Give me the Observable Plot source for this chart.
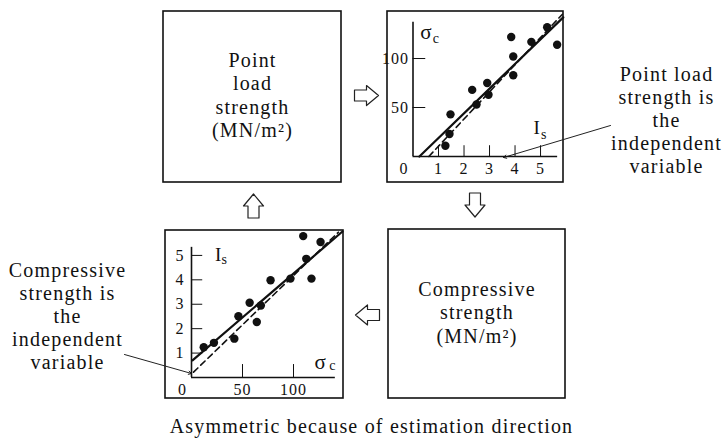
<!DOCTYPE html>
<html><head><meta charset="utf-8">
<script src="https://cdn.jsdelivr.net/npm/d3@7"></script>
<script src="https://cdn.jsdelivr.net/npm/@observablehq/plot@0.6"></script>
<style>
html,body{margin:0;padding:0;background:#fff;}
#wrap{position:relative;width:724px;height:440px;overflow:hidden;background:#fff;}
#wrap > svg{position:absolute;margin:0;}
</style></head><body><div id="wrap"></div>
<script>
// ---------- data: panel "σc on Is" (top right) ----------
const trIs = [1.27, 1.43, 1.47, 2.32, 2.49, 2.91, 2.96, 3.85, 3.93, 3.93, 4.64, 5.26, 5.65];
const trSc = [11, 23, 43, 68, 53, 75, 63, 122, 102, 83, 117, 132, 114];
const trSolidIs = [0.25, 5.89], trSolidSc = [0, 142];
const trDashIs = [0.62, 5.85], trDashSc = [0, 145];
const trXTicks = [1, 2, 3, 4, 5];
const trYTicks = [50, 100];

// ---------- data: panel "Is on σc" (bottom left) ----------
const blSc = [12, 22, 42, 46, 57, 64, 68, 77.5, 97, 109.5, 112.5, 117.6, 126.5];
const blIs = [1.24, 1.42, 1.59, 2.51, 3.06, 2.27, 2.95, 3.98, 4.05, 5.79, 4.86, 4.05, 5.55];
const blSolidSc = [1, 148], blSolidIs = [0.70, 5.98];
const blDashSc = [2, 144], blDashIs = [0.22, 5.95];
const blXTicks = [50, 100];
const blYTicks = [1, 2, 3, 4, 5];

// ---------- texts ----------
const boxTextTL = "Point\nload\nstrength\n(MN/m²)";
const boxTextBR = "Compressive\nstrength\n(MN/m²)";
const noteRight = "Point load\nstrength is\nthe\nindependent\nvariable";
const noteLeft = "Compressive\nstrength is\nthe\nindependent\nvariable";
const caption = "Asymmetric because of estimation direction";

// ---------- layout ----------
const FONT = "Liberation Serif, Times New Roman, serif";
const boxes = [
  {x1: 163, x2: 341, y1: 11, y2: 182},
  {x1: 387, x2: 563, y1: 11, y2: 182},
  {x1: 388, x2: 565, y1: 229, y2: 398},
  {x1: 165, x2: 343, y1: 230, y2: 398}
];
const arrowSpecs = [
  {id: "r", cx: 366, cy: 95, dir: "right"},
  {id: "d", cx: 474.5, cy: 204.5, dir: "down"},
  {id: "l", cx: 367, cy: 314.5, dir: "left"},
  {id: "u", cx: 253, cy: 205.5, dir: "up"}
];
function blockArrow({id, cx, cy, dir}) {
  const L = 24, w = 20, sw = 11, head = 12;
  const pts = [[-L/2, -sw/2], [L/2 - head, -sw/2], [L/2 - head, -w/2], [L/2, 0],
               [L/2 - head, w/2], [L/2 - head, sw/2], [-L/2, sw/2], [-L/2, -sw/2]];
  const rot = {right: ([x, y]) => [x, y], down: ([x, y]) => [-y, x],
               left: ([x, y]) => [-x, -y], up: ([x, y]) => [y, -x]}[dir];
  return pts.map(p => { const [x, y] = rot(p); return {id, x: cx + x, y: cy + y}; });
}
const arrowPts = arrowSpecs.flatMap(blockArrow);
const leaders = [
  {x1: 610, y1: 125, x2: 503, y2: 157},
  {x1: 124, y1: 354, x2: 191, y2: 373}
];
const texts = [
  {x: 252, y: 94, t: boxTextTL},
  {x: 476.5, y: 311.5, t: boxTextBR},
  {x: 666, y: 119, t: noteRight},
  {x: 67, y: 315, t: noteLeft},
  {x: 371, y: 425, t: caption}
];

const wrap = document.getElementById("wrap");
function place(svg, left, top) {
  svg.style.left = left + "px";
  svg.style.top = top + "px";
  wrap.appendChild(svg);
}

// ---------- background layer: boxes, arrows, notes ----------
const bg = Plot.plot({
  width: 724, height: 440, margin: 0,
  x: {domain: [0, 724], axis: null},
  y: {domain: [0, 440], range: [0, 440], axis: null},
  style: {background: "transparent", overflow: "visible", letterSpacing: "1.2px"},
  marks: [
    Plot.rect(boxes, {x1: "x1", x2: "x2", y1: "y1", y2: "y2", fill: "none", stroke: "#111", strokeWidth: 1.6}),
    Plot.line(arrowPts, {x: "x", y: "y", z: "id", fill: "white", stroke: "#222", strokeWidth: 1.2, curve: "linear"}),
    Plot.arrow(leaders, {x1: "x1", y1: "y1", x2: "x2", y2: "y2", stroke: "#222", strokeWidth: 1, headLength: 5}),
    Plot.text(texts, {x: "x", y: "y", text: "t", fontFamily: FONT, fontSize: 20, lineHeight: 1.16,
      textAnchor: "middle", lineAnchor: "middle", fill: "#111"})
  ]
});
place(bg, 0, 0);

// ---------- panel: σc vs Is (top right) ----------
const trData = trIs.map((d, i) => ({x: d, y: trSc[i]}));
const trSolid = trSolidIs.map((d, i) => ({x: d, y: trSolidSc[i]}));
const trDash = trDashIs.map((d, i) => ({x: d, y: trDashSc[i]}));
const tr = Plot.plot({
  width: 176, height: 171,
  marginLeft: 25.5, marginRight: 0, marginTop: 0, marginBottom: 26,
  x: {domain: [0, 5.9], axis: null},
  y: {domain: [0, 148], axis: null},
  style: {background: "transparent", overflow: "visible", letterSpacing: "1px"},
  marks: [
    Plot.ruleY([0], {x1: 0, x2: 5.67, stroke: "#111", strokeWidth: 1.6}),
    Plot.ruleX([0], {y1: 0, y2: 137, stroke: "#111", strokeWidth: 1.6}),
    Plot.ruleX(trXTicks, {y1: 0, y2: 11, stroke: "#111", strokeWidth: 1}),
    Plot.ruleY(trYTicks, {x1: 0, x2: 0.5, stroke: "#111", strokeWidth: 1}),
    Plot.text(trXTicks, {x: d => d, y: 0, text: d => String(d), dy: 12, fontFamily: FONT, fontSize: 16, fill: "#111"}),
    Plot.text([0], {x: d => d, y: 0, text: d => String(d), dy: 12, dx: -9, fontFamily: FONT, fontSize: 16, fill: "#111"}),
    Plot.text(trYTicks, {x: 0, y: d => d, text: d => String(d), dx: -4, textAnchor: "end", fontFamily: FONT, fontSize: 16, fill: "#111"}),
    Plot.line(trSolid, {x: "x", y: "y", stroke: "#111", strokeWidth: 2.2}),
    Plot.line(trDash, {x: "x", y: "y", stroke: "#111", strokeWidth: 1.6, strokeDasharray: "6,4"}),
    Plot.dot(trData, {x: "x", y: "y", r: 4.2, fill: "#111", stroke: "none"}),
    Plot.text(["σ"], {x: 0.53, y: 127, text: d => d, fontFamily: FONT, fontSize: 21, fill: "#111"}),
    Plot.text(["c"], {x: 0.92, y: 120, text: d => d, fontFamily: FONT, fontSize: 14, fill: "#111"}),
    Plot.text(["I"], {x: 4.87, y: 29, text: d => d, fontFamily: FONT, fontSize: 19, fill: "#111"}),
    Plot.text(["s"], {x: 5.14, y: 22, text: d => d, fontFamily: FONT, fontSize: 14, fill: "#111"})
  ]
});
place(tr, 387, 11);

// ---------- panel: Is vs σc (bottom left) ----------
const blData = blSc.map((d, i) => ({x: d, y: blIs[i]}));
const blSolid = blSolidSc.map((d, i) => ({x: d, y: blSolidIs[i]}));
const blDash = blDashSc.map((d, i) => ({x: d, y: blDashIs[i]}));
const bl = Plot.plot({
  width: 178, height: 167,
  marginLeft: 26, marginRight: 0, marginTop: 0, marginBottom: 20,
  x: {domain: [0, 149], axis: null},
  y: {domain: [0, 6.02], axis: null},
  style: {background: "transparent", overflow: "visible", letterSpacing: "1px"},
  marks: [
    Plot.ruleY([0], {x1: 0, x2: 141, stroke: "#111", strokeWidth: 1.6}),
    Plot.ruleX([0], {y1: 0, y2: 5.33, stroke: "#111", strokeWidth: 1.6}),
    Plot.ruleX(blXTicks, {y1: 0, y2: 0.53, stroke: "#111", strokeWidth: 1}),
    Plot.ruleY(blYTicks, {x1: 0, x2: 11, stroke: "#111", strokeWidth: 1}),
    Plot.text(blXTicks, {x: d => d, y: 0, text: d => String(d), dy: 12, fontFamily: FONT, fontSize: 16, fill: "#111"}),
    Plot.text([0], {x: d => d, y: 0, text: d => String(d), dy: 12, dx: -9, fontFamily: FONT, fontSize: 16, fill: "#111"}),
    Plot.text(blYTicks, {x: 0, y: d => d, text: d => String(d), dx: -7, textAnchor: "end", fontFamily: FONT, fontSize: 16, fill: "#111"}),
    Plot.line(blSolid, {x: "x", y: "y", stroke: "#111", strokeWidth: 2.2}),
    Plot.line(blDash, {x: "x", y: "y", stroke: "#111", strokeWidth: 1.6, strokeDasharray: "6,4"}),
    Plot.dot(blData, {x: "x", y: "y", r: 4.2, fill: "#111", stroke: "none"}),
    Plot.text(["I"], {x: 26.5, y: 5.04, text: d => d, fontFamily: FONT, fontSize: 19, fill: "#111"}),
    Plot.text(["s"], {x: 32.5, y: 4.82, text: d => d, fontFamily: FONT, fontSize: 14, fill: "#111"}),
    Plot.text(["σ"], {x: 126.5, y: 0.62, text: d => d, fontFamily: FONT, fontSize: 21, fill: "#111"}),
    Plot.text(["c"], {x: 138.5, y: 0.5, text: d => d, fontFamily: FONT, fontSize: 14, fill: "#111"})
  ]
});
place(bl, 165, 230);
</script>
</body></html>
